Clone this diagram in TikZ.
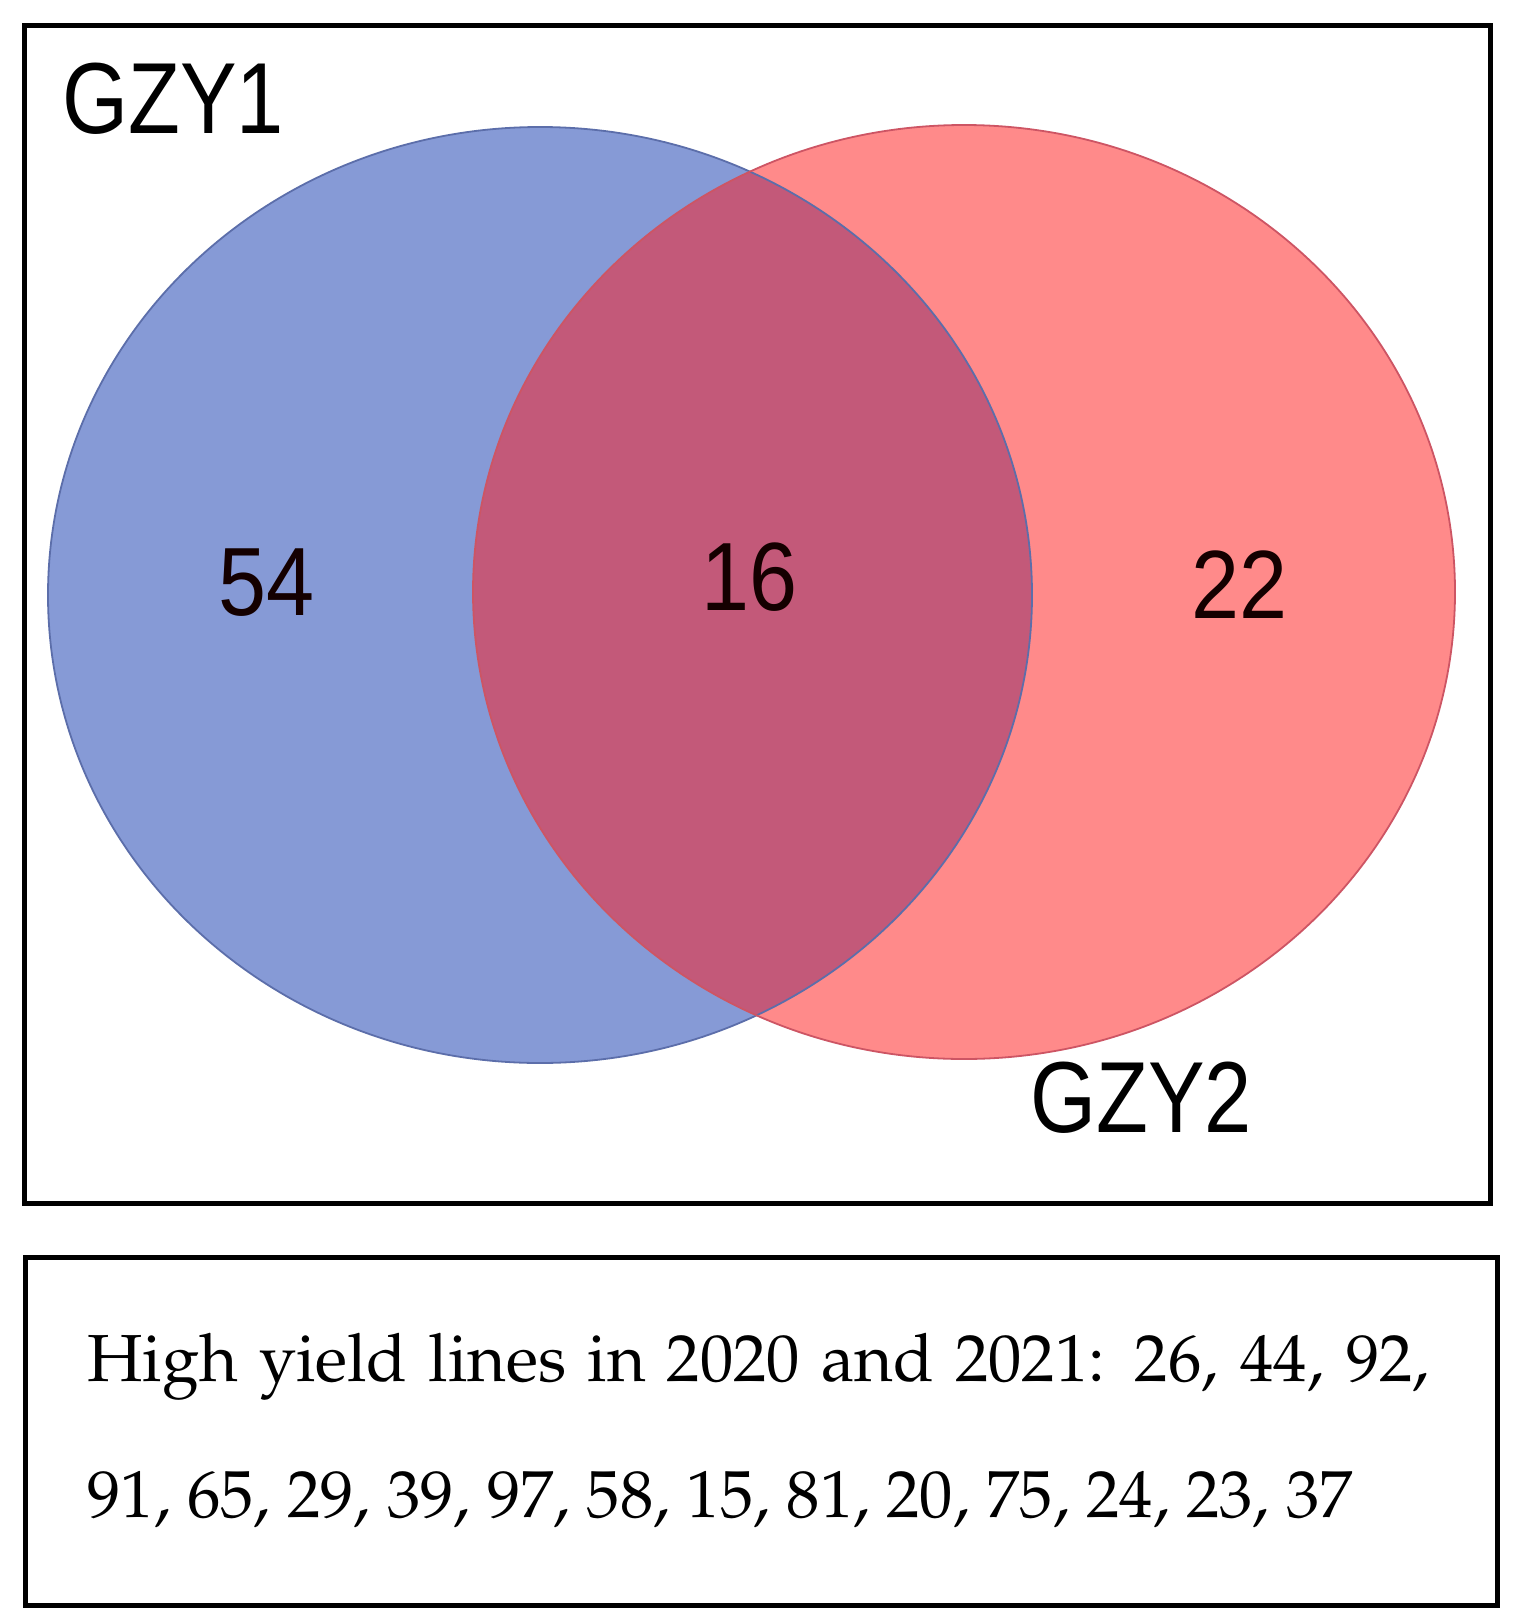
\documentclass[tikz,border=0pt]{standalone}
\usepackage[T1,TU]{fontenc}
\usepackage{fontspec}
\newfontfamily\arialfont{Liberation Sans}
\definecolor{vblue}{RGB}{134,154,214}
\definecolor{vred}{RGB}{255,138,138}
\definecolor{vboth}{RGB}{195,89,121}
\definecolor{vblueline}{RGB}{92,110,170}
\definecolor{vredline}{RGB}{205,85,100}
\tikzset{
  frame/.style={draw=black, line width=2.3pt},
  setlabel/.style={font=\arialfont\fontsize{50.5}{54}\selectfont, inner sep=0pt, anchor=base west, xscale=0.84},
  countlabel/.style={font=\arialfont\fontsize{48.5}{52}\selectfont, inner sep=0pt, anchor=base, xscale=0.89, text=black!92!red},
  legendtext/.style={font=\fontencoding{T1}\fontfamily{ppl}\fontsize{33.3}{40}\selectfont, inner sep=0pt, anchor=base west}
}
\begin{document}
\begin{tikzpicture}[x=0.5pt,y=-0.5pt]
\useasboundingbox (0,0) rectangle (1512,1622);
% set regions
\fill[vblue] (540,595) ellipse [x radius=492, y radius=468];
\fill[vred] (964,592) ellipse [x radius=491, y radius=467];
\begin{scope}
  \clip (540,595) ellipse [x radius=492, y radius=468];
  \fill[vboth] (964,592) ellipse [x radius=491, y radius=467];
\end{scope}
\draw[vblueline, line width=0.9pt] (540,595) ellipse [x radius=492, y radius=468];
\draw[vredline, line width=0.9pt] (964,592) ellipse [x radius=491, y radius=467];
% frames
\node[frame, inner sep=0pt, minimum width=733pt, minimum height=589pt, anchor=north west] (vennbox) at (22,23) {};
\node[frame, inner sep=0pt, minimum width=736pt, minimum height=174pt, anchor=north west] (legendbox) at (23,1255) {};
% labels
\node[setlabel] (gzy1) at (62,133) {GZY1};
\node[setlabel] (gzy2) at (1030,1132) {GZY2};
\node[countlabel] (n54) at (267,615) {54};
\node[countlabel] (n16) at (750,610) {16};
\node[countlabel] (n22) at (1239,618) {22};
\node[legendtext] (line1) at (87,1381) {\makebox[671pt][s]{High yield lines in 2020 and 2021: 26, 44, 92,}};
\node[legendtext] (line2) at (87,1517) {91, 65, 29, 39, 97, 58, 15, 81, 20, 75, 24, 23, 37};
\end{tikzpicture}
\end{document}
